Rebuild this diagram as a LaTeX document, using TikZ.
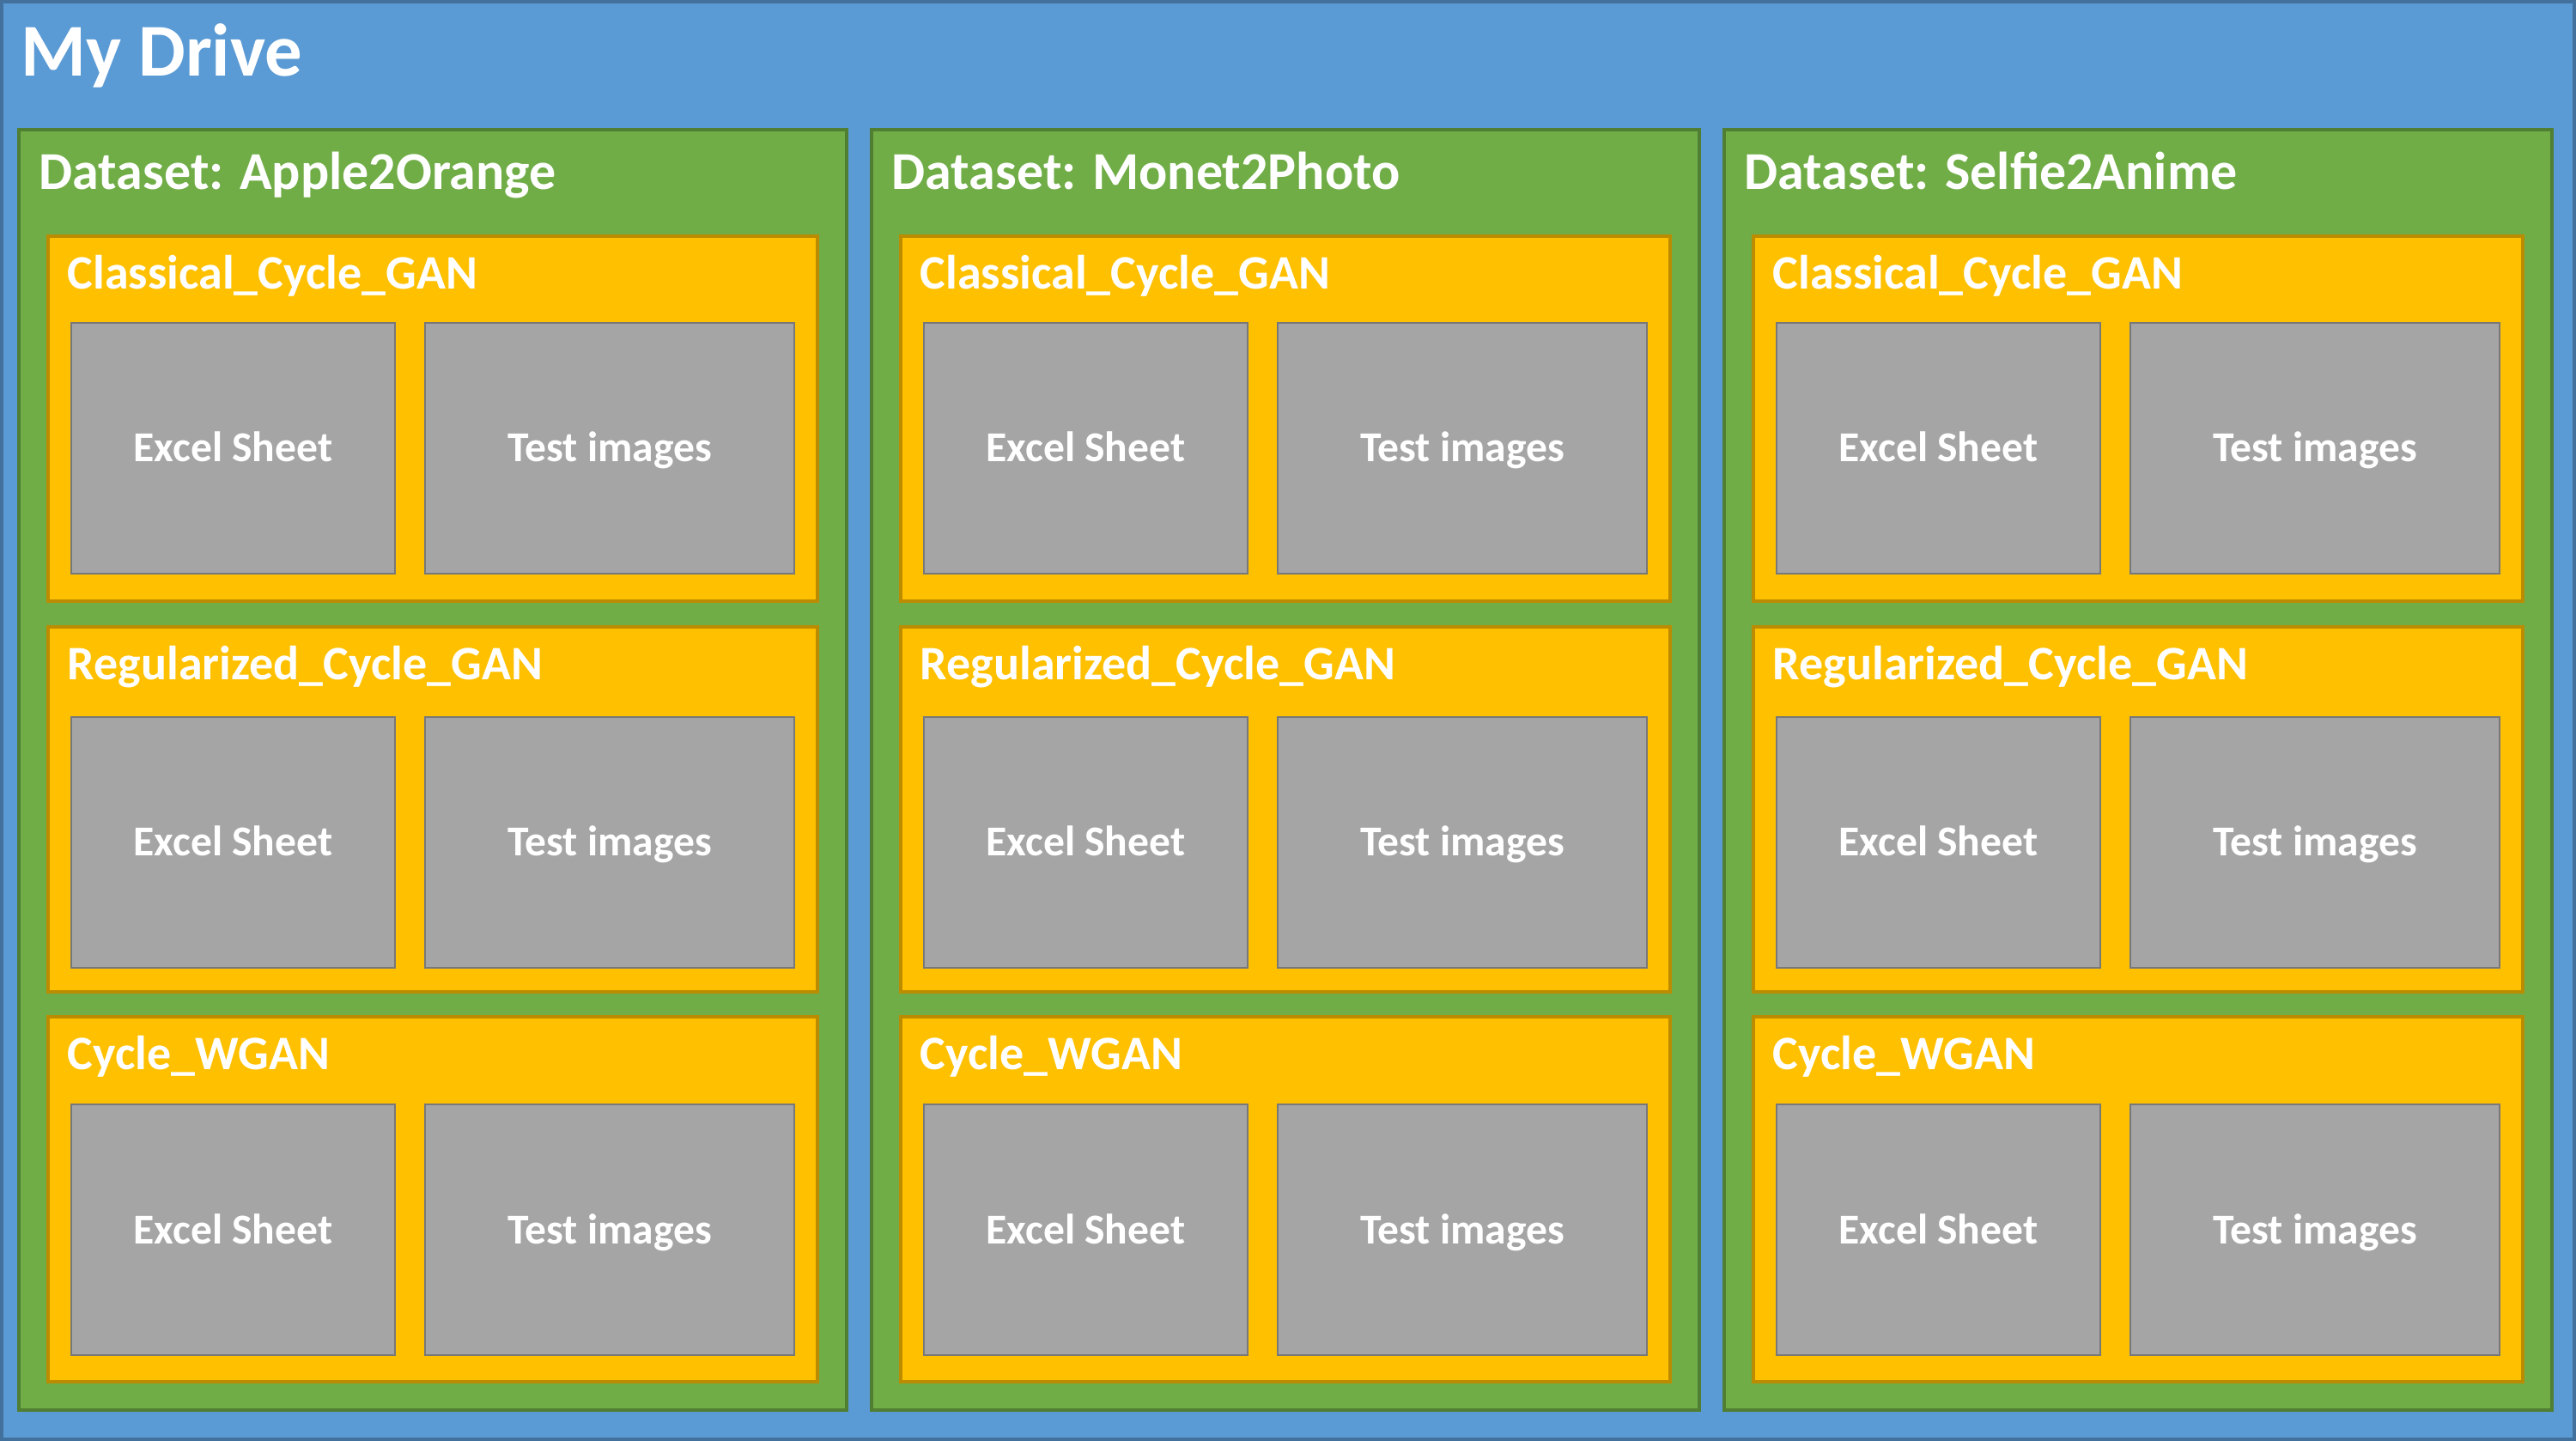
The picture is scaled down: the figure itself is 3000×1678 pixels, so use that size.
\documentclass[tikz,border=0pt]{standalone}
\usepackage{fontspec}
\setmainfont{Carlito}
\definecolor{driveblue}{HTML}{5B9BD5}
\definecolor{driveedge}{HTML}{41719C}
\definecolor{setgreen}{HTML}{70AD47}
\definecolor{setedge}{HTML}{507E32}
\definecolor{modelgold}{HTML}{FFC000}
\definecolor{modeledge}{HTML}{BC8C00}
\definecolor{itemgrey}{HTML}{A5A5A5}
\definecolor{itemedge}{HTML}{787878}
\begin{document}
\begin{tikzpicture}[x=0.25pt,y=-0.25pt,
  box/.style={rectangle, inner sep=0pt, outer sep=0pt, anchor=north west},
  drivebox/.style={box, fill=driveblue, draw=driveedge, line width=0.8pt,
    minimum width=749pt, minimum height=418.5pt},
  setbox/.style={box, fill=setgreen, draw=setedge, line width=0.9pt,
    minimum width=241pt, minimum height=372.75pt},
  modelbox/.style={box, fill=modelgold, draw=modeledge, line width=0.8pt,
    minimum width=224pt, minimum height=106.25pt},
  itembox/.style={rectangle, inner sep=0pt, outer sep=0pt, anchor=north west,
    fill=itemgrey, draw=itemedge, line width=0.7pt, minimum height=73pt,
    text height=8pt, text depth=0pt,
    text=white, font=\bfseries\fontsize{12.4}{14}\selectfont},
  title/.style={anchor=base west, inner sep=0pt, text=white},
]
\path[use as bounding box] (0,0) rectangle (3000,1678);

% root folder
\node[drivebox] (drive) at (2,2) {};
\node[title, font=\bfseries\fontsize{21.7}{26}\selectfont] (drivelabel) at (24,89) {My Drive};

% one green folder per dataset, three model folders inside each
\foreach \i/\dname in {0/Apple2Orange, 1/Monet2Photo, 2/Selfie2Anime}{
  \pgfmathsetmacro{\gx}{22+993*\i}
  \node[setbox] (set\i) at (\gx,151) {};
  \node[title, font=\bfseries\fontsize{15.5}{18}\selectfont] (setlabel\i) at (\gx+23,221) {Dataset: \dname};
  \foreach \j/\mname/\ytop/\gtop in {0/Classical\_Cycle\_GAN/275/376,
                                      1/Regularized\_Cycle\_GAN/730/835,
                                      2/Cycle\_WGAN/1184/1286}{
    \node[modelbox] (model\i\j) at (\gx+34,\ytop) {};
    \node[title, font=\bfseries\fontsize{14}{16}\selectfont] (modellabel\i\j) at (\gx+56,\ytop+62) {\mname};
    \node[itembox, minimum width=94.25pt] (excel\i\j) at (\gx+61,\gtop) {Excel Sheet};
    \node[itembox, minimum width=107.5pt] (tests\i\j) at (\gx+473,\gtop) {Test images};
  }
}
\end{tikzpicture}
\end{document}
